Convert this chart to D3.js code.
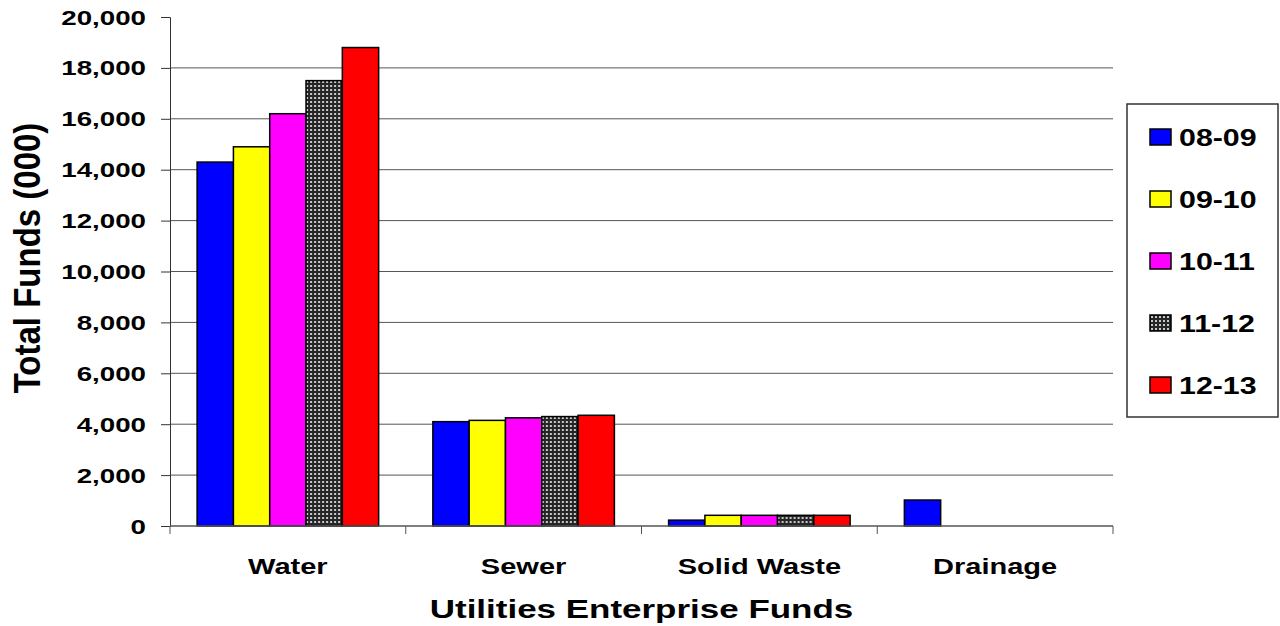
<!DOCTYPE html>
<html>
<head>
<meta charset="utf-8">
<script src="https://cdn.jsdelivr.net/npm/d3@7"></script>
<style>
  body { margin: 0; background: #fff; }
  text { font-family: "Liberation Sans", Arial, sans-serif; font-weight: bold; fill: #000; }
</style>
</head>
<body>
<div id="chart"></div>
<script>
/* data */
var categories = ["Water", "Sewer", "Solid Waste", "Drainage"];
var seriesNames = ["08-09", "09-10", "10-11", "11-12", "12-13"];
var fy0809 = [14300, 4100, 230, 1020];
var fy0910 = [14900, 4150, 420, 0];
var fy1011 = [16200, 4250, 420, 0];
var fy1112 = [17500, 4300, 420, 0];
var fy1213 = [18800, 4350, 420, 0];
var yTicks = [0, 2000, 4000, 6000, 8000, 10000, 12000, 14000, 16000, 18000, 20000];

var seriesValues = [fy0809, fy0910, fy1011, fy1112, fy1213];
var fills = ["#0000ff", "#ffff00", "#ff00ff", "url(#dots)", "#ff0000"];

/* constants */
var width = 1280, height = 626;
var plotLeft = 170, plotRight = 1113, plotTop = 17, plotBottom = 526;
var stretch = 1.32; // the original text is drawn wide

var svg = d3.select("#chart").append("svg")
    .attr("width", width)
    .attr("height", height);

// dotted pattern for 11-12
var pat = svg.append("defs").append("pattern")
    .attr("id", "dots")
    .attr("patternUnits", "userSpaceOnUse")
    .attr("width", 4).attr("height", 4);
pat.append("rect").attr("width", 4).attr("height", 4).attr("fill", "#262626");
pat.append("rect").attr("x", 1).attr("y", 1).attr("width", 2).attr("height", 2).attr("fill", "#c8c8c8");

var x0 = d3.scaleBand().domain(categories).range([plotLeft, plotRight])
    .paddingInner(0.23).paddingOuter(0.115);
var x1 = d3.scaleBand().domain(seriesNames).range([0, x0.bandwidth()]);
var y = d3.scaleLinear().domain([0, 20000]).range([plotBottom, plotTop]);

// wide text helper
function wideText(g, x, yy, size, anchor, str) {
    return g.append("g").attr("transform", "translate(" + x + "," + yy + ") scale(" + stretch + ",1)")
        .append("text")
        .attr("text-anchor", anchor)
        .style("font-size", size + "px")
        .text(str);
}

// gridlines
svg.append("g").selectAll("line")
    .data(yTicks.filter(function(d){ return d > 0 && d < 20000; }))
    .enter().append("line")
    .attr("x1", plotLeft).attr("x2", plotRight)
    .attr("y1", function(d){ return y(d); })
    .attr("y2", function(d){ return y(d); })
    .attr("stroke", "#555").attr("stroke-width", 1);

// y axis
var yAxis = svg.append("g")
    .attr("transform", "translate(" + plotLeft + ",0)")
    .call(d3.axisLeft(y).tickValues(yTicks).tickSize(9).tickFormat(""));
yAxis.select(".domain").attr("stroke", "#333");
yAxis.selectAll(".tick line").attr("stroke", "#333");
var fmt = d3.format(",");
yTicks.forEach(function(t){
    wideText(svg, 146, y(t) + 7.5, 21, "end", fmt(t));
});

// bars
var groups = svg.append("g").selectAll("g")
    .data(categories)
    .enter().append("g")
    .attr("transform", function(d){ return "translate(" + x0(d) + ",0)"; });

groups.selectAll("rect")
    .data(function(d, ci){
        return seriesNames.map(function(s, si){ return {s: s, si: si, v: seriesValues[si][ci]}; })
            .filter(function(e){ return e.v > 0; });
    })
    .enter().append("rect")
    .attr("x", function(e){ return x1(e.s); })
    .attr("y", function(e){ return y(e.v); })
    .attr("width", x1.bandwidth())
    .attr("height", function(e){ return y(0) - y(e.v); })
    .attr("fill", function(e){ return fills[e.si]; })
    .attr("stroke", "#000").attr("stroke-width", 1.5);

// x axis
var xAxis = svg.append("g")
    .attr("transform", "translate(0," + plotBottom + ")");
xAxis.append("line").attr("x1", plotLeft).attr("x2", plotRight)
    .attr("stroke", "#555").attr("stroke-width", 1.5);
var catEdges = categories.map(function(d){ return x0(d) - x0.step() * 0.115; }).concat([plotRight]);
xAxis.selectAll(".ctick").data(catEdges).enter().append("line")
    .attr("x1", function(d){ return d; }).attr("x2", function(d){ return d; })
    .attr("y1", 0).attr("y2", 8)
    .attr("stroke", "#555").attr("stroke-width", 1);
categories.forEach(function(c){
    wideText(svg, x0(c) + x0.bandwidth() / 2, 574, 22, "middle", c);
});

// axis titles
wideText(svg, (plotLeft + plotRight) / 2, 618, 26.5, "middle", "Utilities Enterprise Funds");

svg.append("g")
    .attr("transform", "translate(40,258) scale(1.25,1.1) rotate(-90)")
    .append("text")
    .attr("text-anchor", "middle")
    .style("font-size", "30px")
    .text("Total Funds (000)");

// legend
var legend = svg.append("g").attr("transform", "translate(1127,104)");
legend.append("rect").attr("width", 151).attr("height", 313)
    .attr("fill", "#fff").attr("stroke", "#333").attr("stroke-width", 1.5);
var items = legend.selectAll(".item").data(seriesNames).enter().append("g")
    .attr("transform", function(d, i){ return "translate(23," + (33 + i * 62) + ")"; });
items.append("rect").attr("x", 0).attr("y", -8).attr("width", 21).attr("height", 16)
    .attr("fill", function(d, i){ return fills[i]; })
    .attr("stroke", "#000").attr("stroke-width", 1.5);
items.each(function(d){
    wideText(d3.select(this), 29, 8.5, 23, "start", d);
});
</script>
</body>
</html>
